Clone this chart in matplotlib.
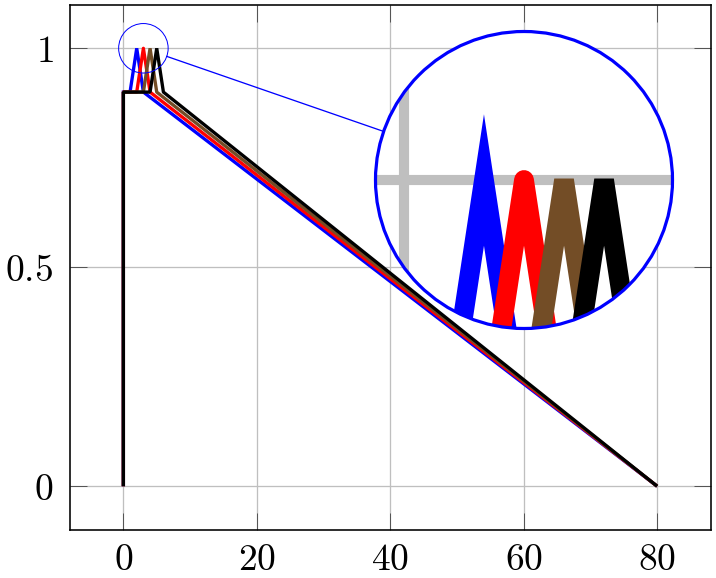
import matplotlib
matplotlib.use("Agg")
import matplotlib.pyplot as plt
from matplotlib.patches import Circle, Ellipse
from matplotlib.lines import Line2D
import numpy as np

plt.rcParams['mathtext.fontset'] = 'cm'

# ---- data ----
y_vals = [0, 0.9, 0.9, 1, 0.9, 0]
x_blue = [0, 0, 1, 2, 3, 80]
x_red = [0, 0, 2, 3, 4, 80]
x_brown = [0, 0, 3, 4, 5, 80]
x_black = [0, 0, 4, 5, 6, 80]
series_x = [x_blue, x_red, x_brown, x_black]
series_colors = ['#0000FF', '#FF0000', '#734D26', '#000000']
series_joins = ['miter', 'round', 'bevel', 'bevel']

xticks = [0, 20, 40, 60, 80]
xtick_labels = ['0', '20', '40', '60', '80']
yticks = [0, 0.5, 1]
ytick_labels = ['0', '0.5', '1']

xlim = (-8, 88)
ylim = (-0.1, 1.1)

spy_center = (3, 1)
magnification = 6

# ---- layout (pixels) ----
W, H = 716, 578
DPI = 100
fig = plt.figure(figsize=(W / DPI, H / DPI), dpi=DPI)
ax_l, ax_r, ax_t, ax_b = 70, 710.5, 4.5, 530
ax = fig.add_axes([ax_l / W, (H - ax_b) / H, (ax_r - ax_l) / W, (ax_b - ax_t) / H])

px = 72.0 / DPI  # points per pixel
lw_main = 3.3 * px
grid_lw = 1.3 * px
grid_color = '#BFBFBF'

for xs, c, j in zip(series_x, series_colors, series_joins):
    ax.plot(xs, y_vals, color=c, lw=lw_main, solid_joinstyle=j,
            solid_capstyle='butt', zorder=3)

ax.set_xlim(*xlim)
ax.set_ylim(*ylim)
ax.set_xticks(xticks, labels=[f'${t}$' for t in xtick_labels])
ax.set_yticks(yticks, labels=[f'${t}$' for t in ytick_labels])
ax.grid(True, color=grid_color, lw=grid_lw, zorder=1)
ax.set_axisbelow(True)
ax.tick_params(direction='in', length=17 * px, width=1.0 * px, color='#555555',
               top=True, right=True, labelsize=27)
ax.tick_params(axis='x', pad=9.0)
ax.tick_params(axis='y', pad=12.0)
for s in ax.spines.values():
    s.set_linewidth(1.6 * px)
    s.set_zorder(5)

# ---- spy ----
fig.canvas.draw()
ppx = (ax_r - ax_l) / (xlim[1] - xlim[0])
ppy = (ax_b - ax_t) / (ylim[1] - ylim[0])
R_big = 148.5
R_small = R_big / magnification
big_cx, big_cy = 524, 180  # pixel, from top

small_c = ax.transData.transform(spy_center)  # display coords (origin bottom)
big_c = np.array([big_cx, H - big_cy])

# small circle
ell = Ellipse(spy_center, 2 * R_small / ppx, 2 * R_small / ppy, fill=False,
              ec='#0000FF', lw=1.0 * px, zorder=6, clip_on=False)
ax.add_patch(ell)

# connecting line
d = big_c - small_c
u = d / np.linalg.norm(d)
p0 = small_c + u * R_small
p1 = big_c - u * R_big
fig.add_artist(Line2D([p0[0] / W, p1[0] / W], [p0[1] / H, p1[1] / H],
                      transform=fig.transFigure, color='#0000FF', lw=1.3 * px))

# inset axes
ax_in = fig.add_axes([(big_c[0] - R_big) / W, (big_c[1] - R_big) / H,
                      2 * R_big / W, 2 * R_big / H])
hx = R_big / (magnification * ppx)
hy = R_big / (magnification * ppy)
ax_in.set_xlim(spy_center[0] - hx, spy_center[0] + hx)
ax_in.set_ylim(spy_center[1] - hy, spy_center[1] + hy)
ax_in.set_axis_off()
clip = Circle((0.5, 0.5), 0.5, transform=ax_in.transAxes)
bg = Circle((0.5, 0.5), 0.5, transform=ax_in.transAxes, fc='white', ec='none', zorder=0)
ax_in.add_patch(bg)
for t in xticks:
    l = ax_in.axvline(t, color=grid_color, lw=grid_lw * magnification * 1.3, zorder=1)
    l.set_clip_path(clip)
for t in yticks:
    l = ax_in.axhline(t, color=grid_color, lw=grid_lw * magnification * 1.3, zorder=1)
    l.set_clip_path(clip)
for xs, c, j in zip(series_x, series_colors, series_joins):
    ln, = ax_in.plot(xs, y_vals, color=c, lw=lw_main * magnification,
                     solid_joinstyle=j, solid_capstyle='butt', zorder=3)
    ln.set_clip_path(clip)
border = Circle((0.5, 0.5), 0.5, transform=ax_in.transAxes, fill=False,
                ec='#0000FF', lw=3.2 * px, zorder=6, clip_on=False)
ax_in.add_patch(border)

fig.savefig('out.png', dpi=DPI)
